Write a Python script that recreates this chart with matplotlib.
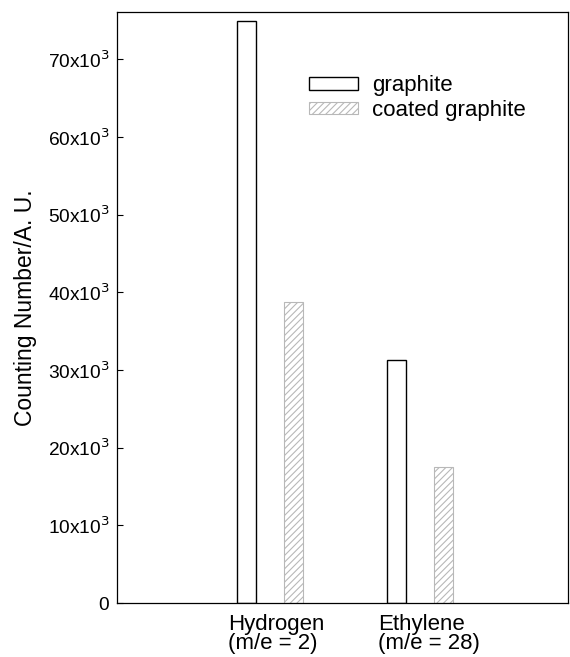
import matplotlib
matplotlib.use("Agg")
import matplotlib.pyplot as plt
import numpy as np

plt.rcParams["font.family"] = ["Liberation Sans", "DejaVu Sans"]
plt.rcParams["hatch.color"] = "#b0b0b0"
plt.rcParams["hatch.linewidth"] = 0.8

# data
categories = ["Hydrogen\n(m/e = 2)", "Ethylene\n(m/e = 28)"]
graphite = [75.0e3, 31.3e3]
coated_graphite = [38.7e3, 17.5e3]
yticks = [0, 10e3, 20e3, 30e3, 40e3, 50e3, 60e3, 70e3]
ytick_labels = ["0"] + [r"%dx10$^3$" % (v / 1e3) for v in yticks[1:]]

fig = plt.figure(figsize=(5.70, 6.57), dpi=100)
ax = fig.add_axes([117 / 570, 1 - 603 / 657, 451 / 570, 591 / 657])

x = np.arange(len(categories))
width = 0.125
offset = 0.157

ax.bar(x - offset, graphite, width, facecolor="white", edgecolor="black",
       linewidth=1.0, label="graphite")
ax.bar(x + offset, coated_graphite, width, facecolor="white", edgecolor="#b8b8b8",
       linewidth=0.8, hatch="/////", label="coated graphite")

ax.set_xlim(-1.02, 1.987)
ax.set_ylim(0, 76.1e3)
ax.set_yticks(yticks)
ax.set_yticklabels(ytick_labels, fontsize=13.8)
ax.tick_params(axis="y", direction="in", length=4, width=0.8, pad=5.5)
ax.set_xticks([])

for xi, lab in zip(x, categories):
    ax.text(xi - 0.28, -0.018, lab, transform=ax.get_xaxis_transform(),
            ha="left", va="top", fontsize=16, linespacing=0.9)

for s in ax.spines.values():
    s.set_linewidth(0.9)

ax.set_ylabel("Counting Number/A. U.", fontsize=16.5, labelpad=7.5)

ax.legend(loc="upper left", bbox_to_anchor=(0.426, 0.893), frameon=False,
          fontsize=16, handlelength=2.2, handleheight=0.5, handletextpad=0.63,
          labelspacing=0.16, borderpad=0, borderaxespad=0)

fig.savefig("out.png", dpi=100)
